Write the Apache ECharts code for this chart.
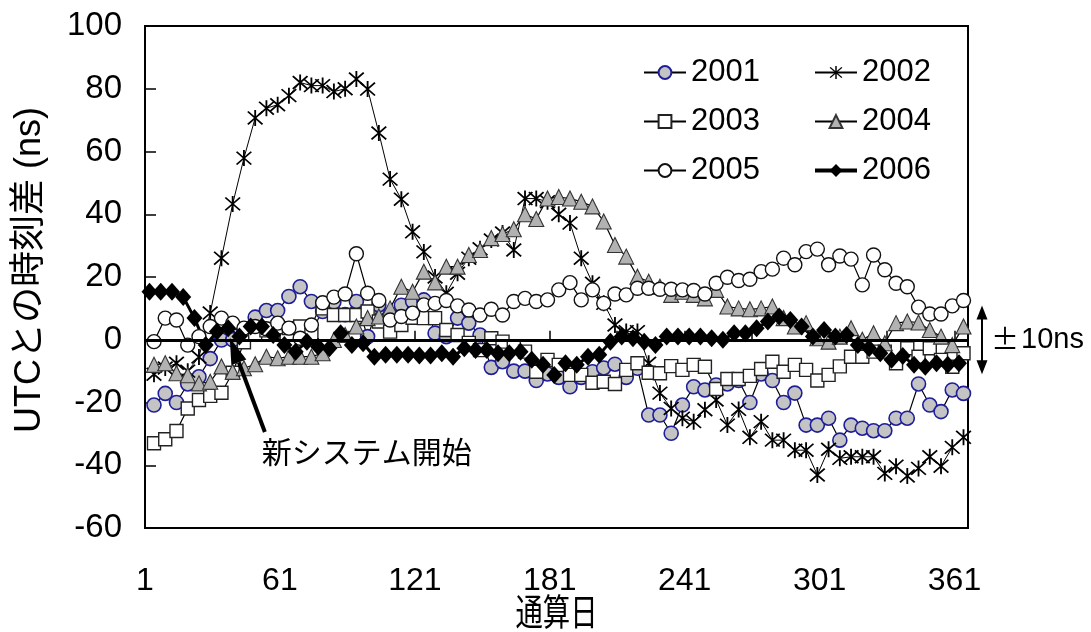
<!DOCTYPE html>
<html>
<head>
<meta charset="utf-8">
<script src="https://cdn.jsdelivr.net/npm/echarts@6/dist/echarts.min.js"></script>
<style>
  html, body { margin: 0; padding: 0; background: #fff; }
  #chart { width: 1091px; height: 632px; }
</style>
</head>
<body>
<div id="chart"></div>
<script>
// Sampling days (通算日)
const DAYS = [5,10,15,20,25,30,35,40,45,50,55,60,65,70,75,80,85,90,95,100,105,110,115,120,125,130,135,140,145,150,155,160,165,170,175,180,185,190,195,200,205,210,215,220,225,230,235,240,245,250,255,260,265,270,275,280,285,290,295,300,305,310,315,320,325,330,335,340,345,350,355,360,365];
const DAYS_2006 = [3,8,13,18,23,28,33,38,43,48,53,58,63,68,73,78,83,88,93,98,103,108,113,118,123,128,133,138,143,148,153,158,163,168,173,178,183,188,193,198,203,208,213,218,223,228,233,238,243,248,253,258,263,268,273,278,283,288,293,298,303,308,313,318,323,328,333,338,343,348,353,358,363];

// Time difference from UTC (ns)
const Y2001 = [-20.8,-17.1,-20,-14.1,-11.8,-6,-0.1,0,3,7.2,9.3,9.3,13.8,16.9,12.2,9,12,8,12.2,1,11.1,8,11,12.2,12.7,2.1,1,6.9,5.3,1.5,-8.8,-7,-10,-10,-13,-10.9,-12,-15,-12,-10.2,-9,-7.8,-12,-9.1,-24,-24,-29.8,-20.8,-15,-16,-14.4,-14.1,-13,-20,-10.9,-13,-20,-17,-27.2,-27.2,-25,-32,-27.2,-28.2,-29,-29,-25,-25,-14.1,-20.8,-22.9,-16,-17.1];
const Y2002 = [-11,-9,-7.5,-10,-5.5,8.5,26,43.3,57.9,70.7,73.8,74.9,77.8,82,81,81,79.1,80,83.1,79.9,65.9,51.2,44.8,34.4,28,20,14.8,21.2,26,29,31.8,34,28.6,45,45,44,40,37.2,26,18,11.6,4.7,2.6,2.6,-7.5,-17,-21.9,-25,-26.1,-22.3,-19.2,-27.2,-22.2,-31.1,-26.1,-32,-32,-35.2,-35.2,-43.1,-34.9,-37.8,-37.3,-37.3,-37.3,-42.6,-40.3,-43.4,-41,-37.3,-40.3,-34.3,-31.1];
const Y2003 = [-33,-31.7,-29.1,-21.9,-19.2,-17.9,-16.9,-10.5,-0.8,2,3,4,3.7,4.2,1.5,10,7.9,7.9,7.9,9,5.8,2.6,4.7,7,6.9,6.9,3.1,1.5,-1,-3.3,0.5,-0.6,-2.2,-3.8,-10.2,-6.4,-8,-11.2,-11.2,-13.7,-13.4,-14.1,-9.6,-7.5,-10.5,-10.7,-8.4,-9.6,-8,-8.6,-15.7,-12.5,-12.5,-11.5,-9.3,-7,-10.2,-8,-9.6,-13,-11.2,-8.5,-5.4,-5.4,-3.8,-3.8,-7.5,-2.7,-5.4,-2.7,-6.4,-8.6,-4.3];
const Y2004 = [-8,-7.5,-10.7,-11.3,-13.9,-13.4,-8.5,-10.2,-9.1,-7.8,-5.4,-5.9,-5.4,-5.4,-5.4,-4.3,-0.1,1.5,4.2,6.9,7.4,10,16.9,15.3,21.7,18.3,23.3,23.3,27,28.6,32.4,33.7,35.2,40,38.5,45,45.5,45,44,42.5,37.7,30.2,26.5,20.1,18.5,16.9,14.3,15.3,14.3,13.2,15.9,10.6,10,9.7,10,10.6,6.9,4.2,5.3,0.5,-0.6,1,3.7,0,2.1,-1.1,5.3,5.8,5.5,3.1,1,-1.7,4.2];
const Y2005 = [-0.6,6.9,6.3,-1.7,1,4.2,6.9,5.3,3.7,4.2,3.5,5.3,3.7,0.5,4.7,11.8,13.6,14.6,27.4,14.8,12.5,6.3,7.4,8.5,11.1,11.6,12.5,10.8,9.5,7.9,9.7,7.9,12.2,13.2,12.2,12.7,15.9,18.2,12.7,15.9,11.6,14.6,14.3,16.4,16.4,16.1,16.1,15.9,15.7,14.6,18,19.9,18.9,19.3,21.7,22.5,26,23.9,28.1,28.9,23.9,26.7,25.7,17.5,27,22.3,18,16.9,10.4,8.2,8.2,10.8,12.5];
const Y2006 = [15.3,15.3,15.3,13.6,6.9,-1.7,2.6,3.7,1,4.2,4.2,1.5,-1.7,-3.8,-0.6,-2.2,-2.7,2.1,-1.7,-1.1,-5.4,-4.8,-4.8,-4.8,-5,-5,-4.3,-5.4,-2.7,-3.3,-3.3,-4.3,-4.3,-3.8,-6.4,-8,-11.2,-7.5,-8,-5.4,-4.8,-0.6,1,0.5,-0.6,-1.7,1,1,1,1,0.5,0,2.1,2.1,3.7,5.8,7.4,6.3,4.2,1,3.1,1,1.5,-1.7,-2.7,-4.3,-6.4,-5.2,-8,-8.6,-7.5,-8,-7.5];

const Y_TICKS = { min: -60, max: 100, step: 20 };
const X_LABEL_STEP = 60;

const FONT = "'Liberation Sans', Arial, 'Noto Sans CJK JP', sans-serif";
const CJK = "'Noto Sans CJK JP', 'Liberation Sans', sans-serif";

// x is plotted as (day - 1) so that the 30-day ticks start at day 1
const toPoints = (days, vals) => days.map((d, i) => [d - 1, vals[i]]);

// six-armed asterisk marker
const ASTERISK = 'path://M9 0L11 0L11 20L9 20Z M2.7 1.3L18.7 17.3L17.3 18.7L1.3 2.7Z M17.3 1.3L18.7 2.7L2.7 18.7L1.3 17.3Z';

const thin = { color: '#000', width: 1.2 };

const chart = echarts.init(document.getElementById('chart'), null, { renderer: 'canvas' });

const legendCommon = {
  orient: 'vertical', top: 52, itemWidth: 42, itemHeight: 16, itemGap: 18,
  selectedMode: false,
  textStyle: { fontSize: 31, color: '#000', fontFamily: FONT }
};

chart.setOption({
  animation: false,
  backgroundColor: '#fff',
  grid: { left: 145, right: 123, top: 26, bottom: 104, show: true, borderColor: '#000', borderWidth: 2 },
  legend: [
    Object.assign({ left: 638, data: ['2001', '2003', '2005'] }, legendCommon),
    Object.assign({ left: 808, data: ['2002', '2004', { name: '2006', lineStyle: { width: 4 } }] }, legendCommon)
  ],
  xAxis: {
    type: 'value', min: 0, max: 366, interval: 30,
    axisLine: { show: true, lineStyle: { color: '#000', width: 2 } },
    axisTick: { show: true, inside: true, length: 9, lineStyle: { color: '#000', width: 1.5 } },
    splitLine: { show: false },
    axisLabel: {
      formatter: v => (v % X_LABEL_STEP === 0 ? String(v + 1) : ''),
      fontSize: 32, color: '#000', margin: 37, fontFamily: FONT
    }
  },
  yAxis: {
    type: 'value', min: Y_TICKS.min, max: Y_TICKS.max, interval: Y_TICKS.step,
    axisLine: { show: true, lineStyle: { color: '#000', width: 2 } },
    axisTick: { show: true, inside: true, length: 11, lineStyle: { color: '#000', width: 1.5 } },
    splitLine: { show: false },
    axisLabel: { fontSize: 33, color: '#000', margin: 23, fontFamily: FONT },
    name: 'UTCとの時刻差 (ns)', nameLocation: 'middle', nameGap: 97,
    nameTextStyle: { fontSize: 36, color: '#000', fontFamily: FONT, padding: [0, 0, 0, 14] }
  },
  series: [
    {
      name: 'zero', type: 'line', data: [], z: 1, silent: true,
      markLine: {
        silent: true, symbol: ['none', 'none'], label: { show: false },
        lineStyle: { color: '#000', width: 3, type: 'solid' },
        data: [{ yAxis: 0 }]
      }
    },
    {
      name: '2001', type: 'line', z: 3, data: toPoints(DAYS, Y2001),
      symbol: 'circle', symbolSize: 14, lineStyle: thin,
      itemStyle: { color: '#c4c4c4', borderColor: '#1e1e9a', borderWidth: 1.6 }
    },
    {
      name: '2002', type: 'line', z: 3, data: toPoints(DAYS, Y2002),
      symbol: ASTERISK, symbolSize: 16, lineStyle: { color: '#000', width: 1 },
      itemStyle: { color: '#000', borderWidth: 0 }
    },
    {
      name: '2003', type: 'line', z: 3, data: toPoints(DAYS, Y2003),
      symbol: 'rect', symbolSize: 13, lineStyle: thin,
      itemStyle: { color: '#fff', borderColor: '#222', borderWidth: 1.4 }
    },
    {
      name: '2004', type: 'line', z: 3, data: toPoints(DAYS, Y2004),
      symbol: 'triangle', symbolSize: 15, lineStyle: thin,
      itemStyle: { color: '#b2b2b2', borderColor: '#333', borderWidth: 1.1 }
    },
    {
      name: '2005', type: 'line', z: 3, data: toPoints(DAYS, Y2005),
      symbol: 'circle', symbolSize: 14, lineStyle: thin,
      itemStyle: { color: '#fff', borderColor: '#111', borderWidth: 1.4 }
    },
    {
      name: '2006', type: 'line', z: 3, data: toPoints(DAYS_2006, Y2006),
      symbol: 'diamond', symbolSize: [16, 18], lineStyle: { color: '#000', width: 3 },
      itemStyle: { color: '#000', borderWidth: 0 }
    }
  ]
});

// Annotations anchored to data coordinates
function px(x, y) { return chart.convertToPixel({ gridIndex: 0 }, [x, y]); }

function arrowHead(tip, from, len, half) {
  const dx = tip[0] - from[0], dy = tip[1] - from[1];
  const L = Math.hypot(dx, dy), ux = dx / L, uy = dy / L;
  const bx = tip[0] - ux * len, by = tip[1] - uy * len;
  return [tip, [bx - uy * half, by + ux * half], [bx + uy * half, by - ux * half]];
}

// 新システム開始 arrow
const tail = px(53.3, -29.4);
const tip = px(37.7, 0.6);
const head = arrowHead(tip, tail, 26, 8);
const neck = [(head[1][0] + head[2][0]) / 2, (head[1][1] + head[2][1]) / 2];
const label = px(51.9, -35.8);

// ±10ns bracket arrow outside the plot
const gridLeft = px(0, 0)[0];
const gridRight = px(366, 0)[0];
const gridBottom = px(0, Y_TICKS.min)[1];
const ax = gridRight + 14;
const top10 = px(0, 10)[1], bot10 = px(0, -10)[1], zeroY = px(0, 0)[1];
const upHead = arrowHead([ax, top10 - 3], [ax, bot10], 14, 5.5);
const dnHead = arrowHead([ax, bot10 + 3], [ax, top10], 14, 5.5);

chart.setOption({
  graphic: [
    { type: 'line', shape: { x1: tail[0], y1: tail[1], x2: neck[0], y2: neck[1] },
      style: { stroke: '#000', lineWidth: 4 }, z: 10 },
    { type: 'polygon', shape: { points: head }, style: { fill: '#000' }, z: 10 },
    { type: 'text', x: label[0], y: label[1], z: 10,
      style: { text: '新システム開始', fill: '#000', font: '30px ' + CJK, textVerticalAlign: 'middle', textAlign: 'left' } },
    { type: 'line', shape: { x1: ax, y1: top10 + 8, x2: ax, y2: bot10 - 8 },
      style: { stroke: '#000', lineWidth: 2 }, z: 10 },
    { type: 'polygon', shape: { points: upHead }, style: { fill: '#000' }, z: 10 },
    { type: 'polygon', shape: { points: dnHead }, style: { fill: '#000' }, z: 10 },
    { type: 'text', x: ax + 9, y: zeroY, z: 10,
      style: {
        text: '{pm|±}{v|10ns}', textVerticalAlign: 'middle', textAlign: 'left',
        rich: {
          pm: { fontSize: 28, fontFamily: CJK, fill: '#000', padding: [0, 2, 0, 0] },
          v: { fontSize: 29, fontFamily: FONT, fill: '#000' }
        }
      } },
    // x-axis title, set in a narrow face
    { type: 'text', x: (gridLeft + gridRight) / 2, y: gridBottom + 84, scaleX: 0.74, z: 10,
      style: { text: '通算日', fill: '#000', font: '37px ' + CJK, textAlign: 'center', textVerticalAlign: 'middle' } }
  ]
});
</script>
</body>
</html>
